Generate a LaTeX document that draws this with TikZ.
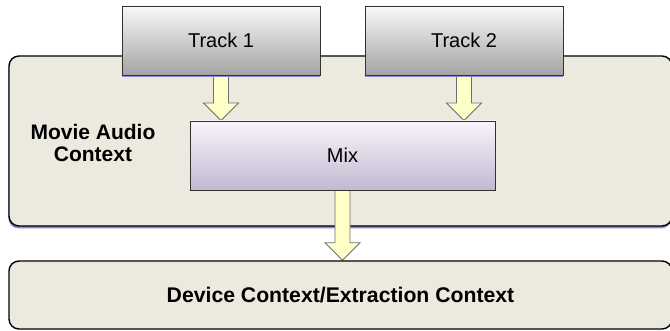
\documentclass[tikz,border=0pt]{standalone}
\usepackage{fontspec}
\setmainfont{Liberation Sans}
\usetikzlibrary{calc,shadows}

\definecolor{ctxfill}{RGB}{236,233,223}
\definecolor{shadowc}{RGB}{140,140,212}
\definecolor{trktop}{RGB}{248,248,248}
\definecolor{trkbot}{RGB}{164,164,164}
\definecolor{mixtop}{RGB}{247,245,250}
\definecolor{mixbot}{RGB}{196,184,209}
\definecolor{arrfill}{RGB}{255,255,200}
\definecolor{arredge}{RGB}{110,110,110}
\definecolor{boxedge}{RGB}{50,50,50}

\pgfdeclarelayer{back}
\pgfdeclarelayer{mid}
\pgfsetlayers{back,mid,main}

\tikzset{
  context/.style={draw=black, line width=1.4pt, fill=ctxfill, rounded corners=10pt,
    inner sep=0pt, font=\fontsize{21.2}{24}\selectfont\bfseries},
  trackbox/.style={draw=boxedge, line width=0.9pt, top color=trktop, bottom color=trkbot,
    inner sep=0pt, font=\fontsize{20}{24}\selectfont,
    drop shadow={shadow xshift=0pt, shadow yshift=-2.2pt, fill=shadowc, opacity=1}},
  mixbox/.style={draw=boxedge, line width=0.9pt, top color=mixtop, bottom color=mixbot,
    inner sep=0pt, font=\fontsize{20}{24}\selectfont},
  flowarrow/.style={draw=arredge, line width=0.8pt, fill=arrfill, line join=miter},
  ctxlabel/.style={align=center, font=\fontsize{21}{22}\selectfont\bfseries}
}

% block arrow from #1 (top) down to #2 (tip)
\newcommand\blockarrow[2]{%
  \filldraw[flowarrow] let \p1=(#1), \p2=(#2) in
    (\x1-7.5pt,\y1) -- (\x1-7.5pt,\y2+17.5pt) -- (\x1-17.5pt,\y2+17.5pt) --
    (\x1,\y2) -- (\x1+17.5pt,\y2+17.5pt) -- (\x1+7.5pt,\y2+17.5pt) --
    (\x1+7.5pt,\y1) -- cycle;}

\begin{document}
\begin{tikzpicture}[x=1pt, y=-1pt]
  \useasboundingbox (0,0) rectangle (670,331);

  \begin{pgfonlayer}{back}
    \node[context, minimum width=663pt, minimum height=170pt,
      drop shadow={shadow xshift=-0.6pt, shadow yshift=-2.4pt, fill=shadowc, opacity=1}]
      (movie) at (340.5,141) {};
  \end{pgfonlayer}

  \node[ctxlabel] (movielbl) at (93,143) {Movie Audio\\Context};

  \node[trackbox, minimum width=198pt, minimum height=69pt] (t1) at (221,40.5) {Track 1};
  \node[trackbox, minimum width=198pt, minimum height=69pt] (t2) at (464,40.5) {Track 2};
  \node[mixbox, minimum width=305pt, minimum height=69pt] (mix) at (342.5,155.5) {Mix};

  \node[context, minimum width=663pt, minimum height=68pt] (dev) at (340.5,295)
    {Device Context/Extraction Context};

  \begin{pgfonlayer}{mid}
    \blockarrow{t1.south}{t1.south |- mix.north}
    \blockarrow{t2.south}{t2.south |- mix.north}
    \blockarrow{mix.south}{mix.south |- dev.north}
  \end{pgfonlayer}
\end{tikzpicture}
\end{document}
